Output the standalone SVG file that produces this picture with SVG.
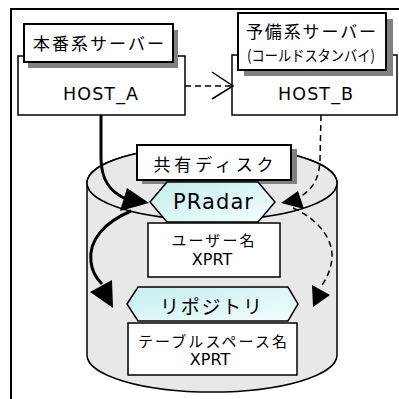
<svg xmlns="http://www.w3.org/2000/svg" width="399" height="399" viewBox="0 0 399 399">
<defs>
<linearGradient id="hexg" x1="0" y1="0" x2="1" y2="1">
<stop offset="0" stop-color="#c4eeee"/>
<stop offset="1" stop-color="#f4fdfd"/>
</linearGradient>
<style>
.box{fill:#fff;stroke:#000;stroke-width:1.5}
.lbl{fill:#fff;stroke:#000;stroke-width:2}
.shd{fill:#808080}
.hex{fill:url(#hexg);stroke:#000;stroke-width:1.5}
.jp{font-family:"Noto Sans CJK JP","Noto Sans",sans-serif;fill:#000;text-anchor:middle;dominant-baseline:central}
.en{font-family:"DejaVu Sans","Noto Sans",sans-serif;fill:#000;text-anchor:middle}
.thick{fill:none;stroke:#000;stroke-width:3}
.dash{fill:none;stroke:#000;stroke-width:1.5;stroke-dasharray:6 4}
.head{fill:#000;stroke:none}
</style>
</defs>
<rect x="11" y="9" width="400" height="400" fill="#fff" stroke="#000" stroke-width="2"/>

<g id="disk">
<path d="M87,183 L87,355 A125,37 0 0 0 337,355 L337,183 A125,37 0 0 0 87,183 Z" fill="#e8e8e8" stroke="#000" stroke-width="1.5"/>
<ellipse cx="212" cy="183" rx="125" ry="37" fill="#e8e8e8" stroke="#000" stroke-width="1.5"/>
</g>

<g id="host_a">
<rect class="box" x="18" y="56" width="167" height="59"/>
<rect class="shd" x="28" y="30" width="150" height="38"/>
<rect class="lbl" x="24" y="24" width="149" height="38"/>
<text class="jp" x="98.5" y="42" font-size="17" textLength="131" lengthAdjust="spacing">本番系サーバー</text>
<text class="en" x="100.5" y="100" font-size="17.5" textLength="75" lengthAdjust="spacing">HOST_A</text>
</g>

<g id="host_b">
<rect class="box" x="232" y="55" width="165" height="60"/>
<rect class="shd" x="244" y="19" width="149" height="57"/>
<rect class="lbl" x="238" y="13" width="148" height="57"/>
<text class="jp" x="311" y="30" font-size="17" textLength="130" lengthAdjust="spacing">予備系サーバー</text>
<text class="jp" x="311" y="54" font-size="15" textLength="128" lengthAdjust="spacingAndGlyphs">(コールドスタンバイ)</text>
<text class="en" x="315.5" y="100" font-size="17.5" textLength="75" lengthAdjust="spacing">HOST_B</text>
</g>

<g id="shared_disk_label">
<rect class="shd" x="142" y="149" width="155" height="35"/>
<rect class="lbl" x="137" y="145" width="154" height="35"/>
<text class="jp" x="213.5" y="163" font-size="17" textLength="120" lengthAdjust="spacing">共有ディスク</text>
</g>

<g id="pradar">
<polygon class="hex" points="150,202 167,182 258,182 275,202 258,222 167,222"/>
<text class="en" x="213" y="208.5" font-size="21" textLength="80" lengthAdjust="spacing">PRadar</text>
</g>

<g id="user">
<rect class="box" x="148" y="223" width="132" height="54"/>
<text class="jp" x="213" y="239" font-size="15" textLength="83" lengthAdjust="spacing">ユーザー名</text>
<text class="en" x="212" y="265" font-size="16">XPRT</text>
</g>

<g id="repository">
<polygon class="hex" points="127,304 138,287 288,287 298,304 288,321 138,321"/>
<text class="jp" x="211" y="305" font-size="19" textLength="102" lengthAdjust="spacing">リポジトリ</text>
</g>

<g id="tablespace">
<rect class="box" x="128" y="323" width="169" height="52"/>
<text class="jp" x="212.5" y="340" font-size="15" textLength="149" lengthAdjust="spacing">テーブルスペース名</text>
<text class="en" x="210" y="365" font-size="16">XPRT</text>
</g>

<g id="connectors">
<path class="dash" d="M185,86 L231,86"/>
<polyline points="212,72 233,86 212,99" fill="none" stroke="#000" stroke-width="1.5"/>
<path class="thick" d="M101,115 L101,158 C101,180 110,192 126,199"/>
<polygon class="head" points="127,188 149,203 120,211"/>
<path class="thick" d="M131,211 C105,222 88,240 91,262 C92,272 96,278 102,284"/>
<polygon class="head" points="112,280 90,292 113,308"/>
<path class="dash" d="M321,115 L320,160 C319,178 314,188 300,197"/>
<polygon class="head" points="281,203 298,191 304,209"/>
<path class="dash" d="M293,208 C320,220 333,240 332,258 C331,270 326,280 320,288"/>
<polygon class="head" points="312,285 330,295 313,307"/>
</g>
</svg>
